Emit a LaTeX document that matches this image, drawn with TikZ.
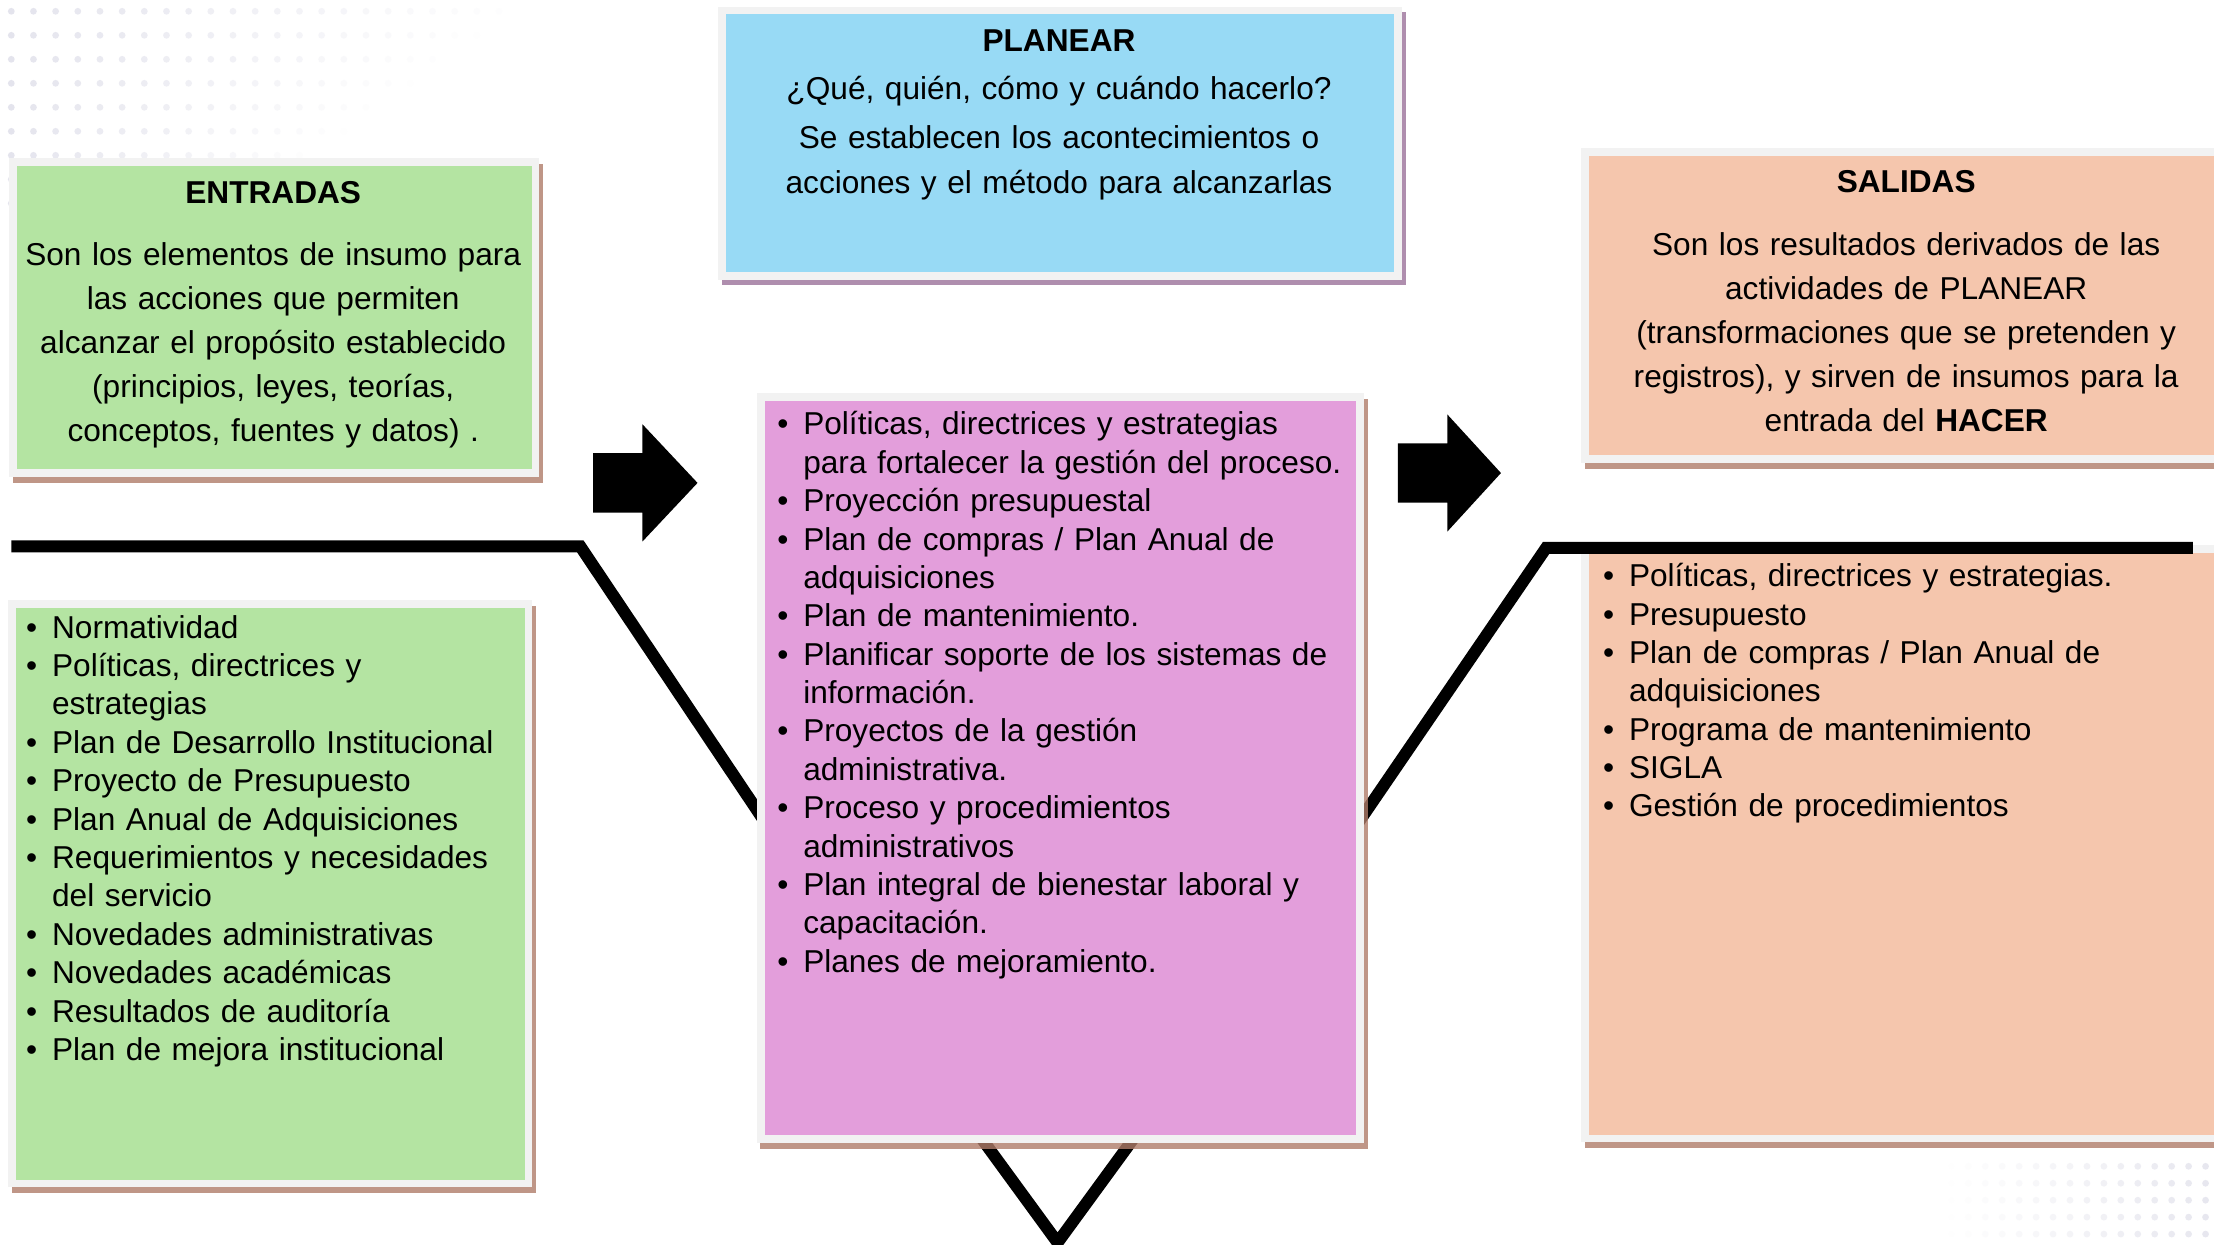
\documentclass[tikz,border=0pt]{standalone}
\usepackage{fontspec}
\setmainfont{Liberation Sans}
\usepackage{tikz}
\usetikzlibrary{positioning}
\tikzstyle{diagram} = [x = 0.141199mm, y = -0.141199mm]
\definecolor{frameColor}{RGB}{242,242,242}
\definecolor{inputColor}{RGB}{180,228,162}
\definecolor{planColor}{RGB}{152,218,245}
\definecolor{actColor}{RGB}{227,158,219}
\definecolor{outputColor}{RGB}{245,198,173}
\definecolor{shadowColor}{RGB}{176,124,105}
\definecolor{planShadowColor}{RGB}{156,114,154}
\definecolor{dotColor}{RGB}{226,226,236}
\tikzstyle{flowLine} = [color=black, line width=1.2mm, line join=miter]
\tikzstyle{blockArrowStyle} = [fill=black]
\tikzstyle{titleText} = [font={\fontsize{9}{11}\selectfont\bfseries}, anchor=base, inner sep=0pt]
\tikzstyle{bodyText} = [font={\fontsize{9}{12.56}\selectfont}, anchor=base, align=center, text width=60mm, inner sep=0pt]
\tikzstyle{listText} = [font={\fontsize{9}{10.92}\selectfont}, anchor=base west, align=left, text width=62mm, inner sep=0pt]
\newcommand{\frameWidth}{5.5}
\newcommand{\processBox}[6]{
  \fill [color=#6, opacity=0.8] (#1 + 2.5, #2 + 4) rectangle (#3 + 2.5, #4 + 4);
  \fill [color=frameColor] (#1, #2) rectangle (#3, #4);
  \fill [color=#5] (#1 + \frameWidth, #2 + \frameWidth) rectangle (#3 - \frameWidth, #4 - \frameWidth);
}
\newcommand{\blockArrow}[3]{\fill [blockArrowStyle] (#1, #2 - 21) -- ++(35, 0) -- ++(0, -20.5) -- ++(#3, 41.5) -- ++(-#3, 41.5) -- ++(0, -20.5) -- ++(-35, 0) -- cycle;}
\newcommand{\bulletItem}{\makebox[2.6mm][l]{\textbullet}}
\newcommand{\bulletSpace}{\hspace*{2.6mm}}
\newcommand{\dotField}[7]{
  \foreach \row in {0,...,#2} {
    \foreach \column in {0,...,#1} {
      \pgfmathsetmacro{\dotFade}{#7}
      \fill [dotColor, opacity=\dotFade] (#3 + #5 * \column, #4 + #6 * \row) circle [radius=2.4];
    }
  }
}

\begin{document}
\begin{tikzpicture}[diagram]
  \path [use as bounding box] (0,0) rectangle (1568,881.7);
  \clip (0,0) rectangle (1568,881.7);
  \fill [white] (0,0) rectangle (1568,881.7);

  \dotField{22}{8}{8}{8}{15.7}{17}{max(0, 0.9 - 0.9 * \column / (23 - 1.5 * \row))}
  \dotField{17}{4}{1358}{826}{12}{12}{max(0, 0.9 * \column / 17 - 0.1)}

  \processBox{1120}{105}{1600}{328}{outputColor}{shadowColor}
  \processBox{1120}{386}{1600}{809}{outputColor}{shadowColor}

  \coordinate (inputStart) at (8, 387);
  \coordinate (inputBend) at (411, 387);
  \coordinate (inputEnd) at (545, 587);
  \coordinate (outputStart) at (1553, 388);
  \coordinate (outputBend) at (1095, 388);
  \coordinate (outputEnd) at (959, 587);
  \coordinate (checkLeft) at (676, 780);
  \coordinate (checkTip) at (749, 880);
  \coordinate (checkRight) at (822, 780);
  \draw [flowLine] (inputStart) -- (inputBend) -- (inputEnd);
  \draw [flowLine] (outputStart) -- (outputBend) -- (outputEnd);
  \draw [flowLine] (checkLeft) -- (checkTip) -- (checkRight);

  \processBox{6.5}{112}{382}{338}{inputColor}{shadowColor}
  \processBox{6}{425}{377}{841}{inputColor}{shadowColor}
  \processBox{508.5}{4.7}{993}{198}{planColor}{planShadowColor}
  \processBox{536}{278.5}{966}{809.6}{actColor}{shadowColor}

  \blockArrow{420}{342}{39}
  \blockArrow{990}{335}{38}

  \node [titleText] (inputTitle) at (193.5, 144) {ENTRADAS};
  \node [bodyText] (inputText) at (193.5, 187.7) {Son los elementos de insumo para\\
    las acciones que permiten\\
    alcanzar el propósito establecido\\
    (principios, leyes, teorías,\\
    conceptos, fuentes y datos) .};

  \node [titleText] (planTitle) at (750, 36.6) {PLANEAR};
  \node [bodyText] (planQuestion) at (750, 70.8) {¿Qué, quién, cómo y cuándo hacerlo?};
  \node [bodyText, font={\fontsize{9}{12.8}\selectfont}] (planText) at (750, 105) {Se establecen los acontecimientos o\\
    acciones y el método para alcanzarlas};

  \node [titleText] (outputTitle) at (1350, 136.5) {SALIDAS};
  \node [bodyText] (outputText) at (1350, 180.6) {Son los resultados derivados de las\\
    actividades de PLANEAR\\
    (transformaciones que se pretenden y\\
    registros), y sirven de insumos para la\\
    entrada del \textbf{HACER}};

  \node [listText, text width=55mm] (inputList) at (18, 452) {\bulletItem Normatividad\\
    \bulletItem Políticas, directrices y\\
    \bulletSpace estrategias\\
    \bulletItem Plan de Desarrollo Institucional\\
    \bulletItem Proyecto de Presupuesto\\
    \bulletItem Plan Anual de Adquisiciones\\
    \bulletItem Requerimientos y necesidades\\
    \bulletSpace del servicio\\
    \bulletItem Novedades administrativas\\
    \bulletItem Novedades académicas\\
    \bulletItem Resultados de auditoría\\
    \bulletItem Plan de mejora institucional};

  \node [listText] (actList) at (550, 308) {\bulletItem Políticas, directrices y estrategias\\
    \bulletSpace para fortalecer la gestión del proceso.\\
    \bulletItem Proyección presupuestal\\
    \bulletItem Plan de compras / Plan Anual de\\
    \bulletSpace adquisiciones\\
    \bulletItem Plan de mantenimiento.\\
    \bulletItem Planificar soporte de los sistemas de\\
    \bulletSpace información.\\
    \bulletItem Proyectos de la gestión\\
    \bulletSpace administrativa.\\
    \bulletItem Proceso y procedimientos\\
    \bulletSpace administrativos\\
    \bulletItem Plan integral de bienestar laboral y\\
    \bulletSpace capacitación.\\
    \bulletItem Planes de mejoramiento.};

  \node [listText] (outputList) at (1134.8, 415.5) {\bulletItem Políticas, directrices y estrategias.\\
    \bulletItem Presupuesto\\
    \bulletItem Plan de compras / Plan Anual de\\
    \bulletSpace adquisiciones\\
    \bulletItem Programa de mantenimiento\\
    \bulletItem SIGLA\\
    \bulletItem Gestión de procedimientos};
\end{tikzpicture}
\end{document}
